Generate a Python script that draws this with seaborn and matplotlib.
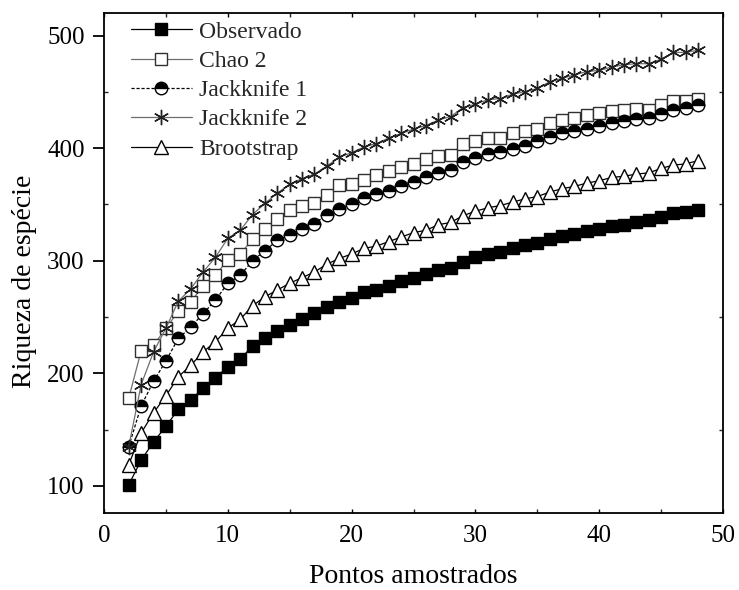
import matplotlib
matplotlib.use("Agg")
import matplotlib.pyplot as plt
from matplotlib.ticker import MultipleLocator
import seaborn as sns
import pandas as pd

pontos = [2, 3, 4, 5, 6, 7, 8, 9, 10, 11, 12, 13, 14, 15, 16, 17, 18, 19, 20,
          21, 22, 23, 24, 25, 26, 27, 28, 29, 30, 31, 32, 33, 34, 35, 36, 37,
          38, 39, 40, 41, 42, 43, 44, 45, 46, 47, 48]

observado = [101, 123, 139, 153, 168, 176, 187, 196, 206, 213, 224, 231, 238,
             243, 248, 254, 259, 263, 267, 272, 274, 278, 282, 285, 288, 292,
             294, 299, 303, 306, 308, 311, 314, 316, 319, 322, 324, 326, 328,
             331, 332, 334, 336, 339, 342, 343, 345]

chao2 = [178, 220, 225, 240, 255, 263, 278, 287, 301, 306, 319, 328, 337, 345,
         349, 351, 358, 367, 368, 372, 376, 380, 383, 386, 390, 393, 394, 404,
         406, 409, 409, 413, 415, 417, 422, 425, 427, 429, 431, 433, 434, 435,
         434, 438, 442, 442, 444]

jackknife1 = [135, 171, 193, 211, 231, 241, 253, 265, 280, 287, 300, 309, 318,
              323, 328, 333, 341, 346, 350, 356, 359, 362, 366, 370, 374, 378,
              381, 388, 391, 395, 397, 399, 402, 406, 410, 413, 415, 417, 420,
              422, 424, 426, 427, 430, 434, 436, 438]

jackknife2 = [135, 190, 219, 240, 264, 275, 290, 303, 320, 327, 341, 351, 360,
              368, 373, 377, 384, 392, 396, 401, 404, 409, 413, 417, 420, 425,
              428, 436, 439, 443, 444, 448, 450, 453, 459, 462, 465, 468, 469,
              472, 474, 475, 475, 479, 485, 485, 487]

brootstrap = [119, 147, 165, 180, 197, 207, 219, 228, 240, 248, 260, 268, 274,
              280, 285, 290, 297, 302, 306, 311, 313, 317, 321, 325, 327, 332,
              334, 340, 344, 347, 349, 352, 355, 357, 361, 364, 366, 369, 371,
              374, 375, 377, 378, 382, 385, 386, 389]

series_names = ["Observado", "Chao 2", "Jackknife 1", "Jackknife 2", "Brootstrap"]
series_values = [observado, chao2, jackknife1, jackknife2, brootstrap]

df = pd.DataFrame({"Pontos": pontos})
for name, vals in zip(series_names, series_values):
    df[name] = vals

sns.set_theme(style="ticks")
plt.rcParams["font.family"] = ["Liberation Serif", "DejaVu Serif"]

styles = {
    "Observado": dict(color="black", linestyle="-", marker="s",
                      markerfacecolor="black", markeredgecolor="black",
                      markersize=8, markeredgewidth=1.0),
    "Chao 2": dict(color="#6e6e6e", linestyle="-", marker="s",
                   markerfacecolor="white", markeredgecolor="#303030",
                   markersize=8.5, markeredgewidth=1.0),
    "Jackknife 1": dict(color="black", linestyle=(0, (2.5, 1.5)), marker="o",
                        fillstyle="top", markerfacecolor="black",
                        markerfacecoloralt="white", markeredgecolor="black",
                        markersize=9, markeredgewidth=1.0),
    "Jackknife 2": dict(color="#6e6e6e", linestyle="-", marker=(6, 2, 0),
                        markeredgecolor="#202020", markersize=11,
                        markeredgewidth=1.0),
    "Brootstrap": dict(color="black", linestyle="-", marker="^",
                       markerfacecolor="white", markeredgecolor="black",
                       markersize=9.5, markeredgewidth=1.0),
}

fig = plt.figure(figsize=(7.39, 5.90), dpi=100)
ax = fig.add_axes([104 / 739, 1 - 513 / 590, 619 / 739, 500 / 590])

handles = []
for name in series_names:
    sns.lineplot(data=df, x="Pontos", y=name, ax=ax, linewidth=0.9,
                 label=name, legend=False, **styles[name])
    handles.append(ax.lines[-1])

ax.set_xlim(0, 50)
ax.set_ylim(76, 520)
ax.xaxis.set_major_locator(MultipleLocator(10))
ax.xaxis.set_minor_locator(MultipleLocator(5))
ax.yaxis.set_major_locator(MultipleLocator(100))
ax.yaxis.set_minor_locator(MultipleLocator(50))

for side in ["top", "right", "bottom", "left"]:
    ax.spines[side].set_visible(True)
    ax.spines[side].set_linewidth(1.3)
    ax.spines[side].set_color("black")

# left axis: long outward major ticks, short inward minor ticks; right mirrors inward
ax.tick_params(axis="y", which="major", direction="out", length=8, width=1.3,
               labelsize=18, pad=6, colors="black")
ax.tick_params(axis="y", which="minor", direction="in", length=3, width=1.0,
               left=True, right=True)
ax.tick_params(axis="x", which="both", direction="in", length=3, width=1.0,
               top=True, bottom=True)
ax.tick_params(axis="x", which="major", labelsize=18, pad=9, colors="black")

ax.set_xlabel("Pontos amostrados", fontsize=20, labelpad=12, color="black")
ax.set_ylabel("Riqueza de espécie", fontsize=20, color="black")
ax.yaxis.set_label_coords(-0.108, 0.464)

ax.legend(handles=handles, labels=series_names, loc="upper left",
          bbox_to_anchor=(0.043, 0.984), frameon=False, fontsize=17,
          handlelength=2.6, handletextpad=0.3, labelspacing=0.33,
          borderpad=0, borderaxespad=0)

fig.savefig("out.png", dpi=100)
